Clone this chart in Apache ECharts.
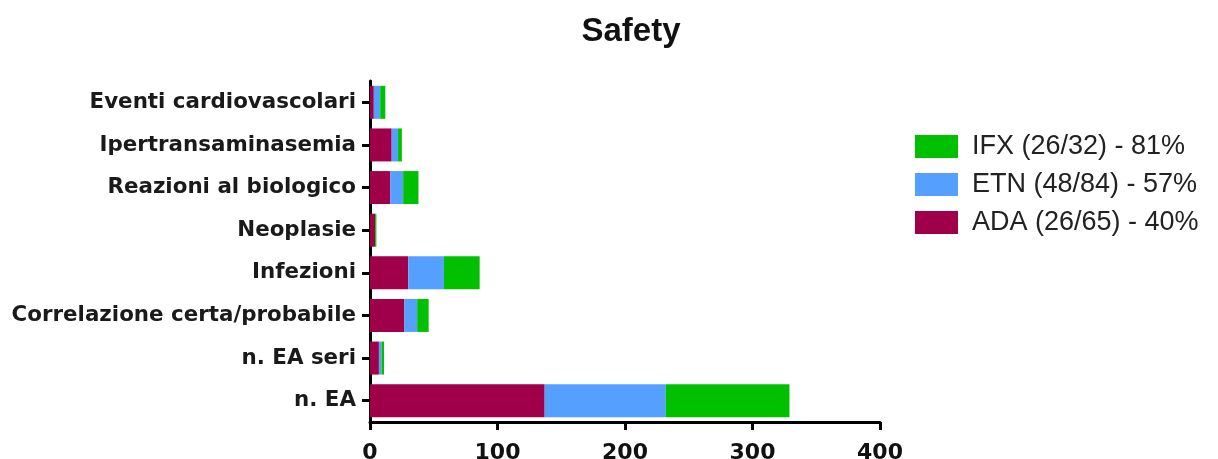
<!DOCTYPE html>
<html><head><meta charset="utf-8">
<script src="https://cdn.jsdelivr.net/npm/echarts@6/dist/echarts.min.js"></script>
<style>html,body{margin:0;padding:0;background:#fff}#c{width:1218px;height:459px}</style>
</head><body><div id="c"></div>
<script>
const categories = ["n. EA","n. EA seri","Correlazione certa/probabile","Infezioni","Neoplasie","Reazioni al biologico","Ipertransaminasemia","Eventi cardiovascolari"];
const ADA = [137, 7, 27, 30, 4, 16, 17, 3];
const ETN = [95, 2, 10, 28, 0, 10, 5, 5];
const IFX = [97, 2, 9, 28, 1, 12, 3, 4];
const seriesNames = ["ADA (26/65) - 40%","ETN (48/84) - 57%","IFX (26/32) - 81%"];
const xTicks = [0, 100, 200, 300, 400];

const chart = echarts.init(document.getElementById('c'));
const mk = (name, data, color) => ({
  name, type: 'bar', stack: 'a', data, barWidth: 33,
  itemStyle: { color }
});
chart.setOption({
  animation: false,
  title: { text: 'Safety', left: 626, textAlign: 'center', top: 10,
    textStyle: { fontFamily: 'Liberation Sans, Arial', fontWeight: 'bold', fontSize: 33, color: '#111' } },
  legend: {
    orient: 'vertical', left: 915, top: 133, padding: 0, itemWidth: 43, itemHeight: 23, itemGap: 11,
    data: [seriesNames[2], seriesNames[1], seriesNames[0]],
    icon: 'rect',
    textStyle: { fontFamily: 'Liberation Sans, Arial', fontSize: 27, lineHeight: 23, color: '#222', padding: [0,0,0,9] }
  },
  grid: { left: 370, top: 81, width: 510, height: 341, containLabel: false, outerBoundsMode: 'none' },
  xAxis: {
    type: 'value', min: xTicks[0], max: xTicks[xTicks.length-1], interval: 100,
    splitLine: { show: false },
    axisLine: { show: true, lineStyle: { color: '#000', width: 3 } },
    axisTick: { show: true, length: 8, lineStyle: { color: '#000', width: 3 } },
    axisLabel: { fontFamily: 'DejaVu Sans', fontWeight: 'bold', fontSize: 22, color: '#111', margin: 20 }
  },
  yAxis: {
    type: 'category', data: categories,
    axisLine: { show: true, lineStyle: { color: '#000', width: 3 } },
    axisTick: { show: true, alignWithLabel: true, length: 8, lineStyle: { color: '#000', width: 3 } },
    axisLabel: { fontFamily: 'DejaVu Sans', fontWeight: 'bold', fontSize: 21.4, color: '#1a1a1a', margin: 14 }
  },
  series: [mk(seriesNames[0], ADA, '#A0004A'), mk(seriesNames[1], ETN, '#55A0FF'), mk(seriesNames[2], IFX, '#00C000')]
});
</script></body></html>
